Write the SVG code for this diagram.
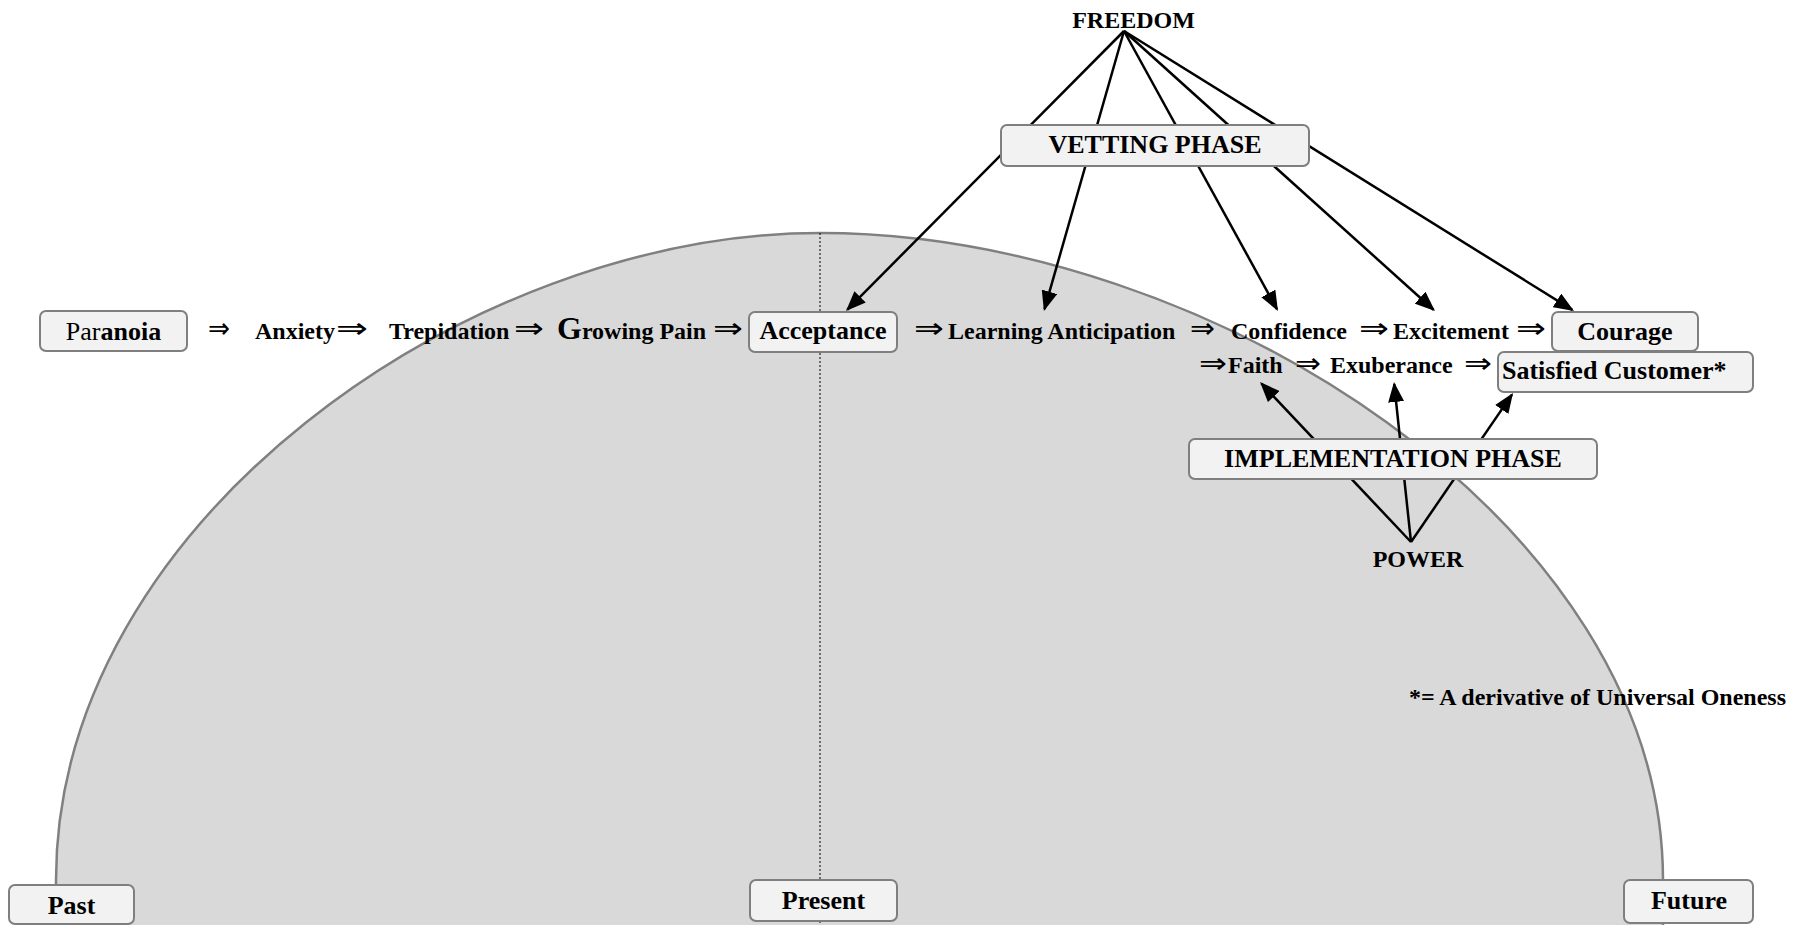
<svg xmlns="http://www.w3.org/2000/svg" width="1811" height="925" viewBox="0 0 1811 925">
<style>
.box{fill:#f2f2f2;stroke:#7f7f7f;stroke-width:2}
.t{font-family:"Liberation Serif","Times New Roman",serif;font-weight:bold;fill:#000}
.w{font-size:24px}
.b{font-size:26px;text-anchor:middle}
.arr{font-family:"DejaVu Sans",sans-serif;font-size:29px;fill:#000}
.ln{stroke:#000;stroke-width:2.5;fill:none;marker-end:url(#ah)}
</style>
<defs>
<marker id="ah" viewBox="0 0 20 16" refX="18" refY="8" markerWidth="20" markerHeight="16" markerUnits="userSpaceOnUse" orient="auto">
<path d="M0,0 L20,8 L0,16 Z" fill="#000"/>
</marker>
</defs>
<g id="timeline-dome">
<path d="M56,940 L56,880 C56,522.7 468,233 820,233 C1208,233 1663,522.7 1663,880 L1663,940 Z" fill="#d9d9d9" stroke="#808080" stroke-width="2.5"/>
<line x1="820" y1="233" x2="820" y2="925" stroke="#000" stroke-width="1" stroke-dasharray="2,2"/>
</g>
<g id="connectors">
<g id="freedom-lines">
<line class="ln" x1="1124" y1="31" x2="847.4" y2="309.6"/>
<line class="ln" x1="1124" y1="31" x2="1044.5" y2="309.1"/>
<line class="ln" x1="1124" y1="31" x2="1277" y2="309.2"/>
<line class="ln" x1="1124" y1="31" x2="1433.5" y2="309.7"/>
<line class="ln" x1="1124" y1="31" x2="1572.3" y2="309.9"/>
</g>
<g id="power-lines">
<line class="ln" x1="1411" y1="542" x2="1261.4" y2="383.5"/>
<line class="ln" x1="1411" y1="542" x2="1394.2" y2="384"/>
<line class="ln" x1="1411" y1="542" x2="1511.9" y2="394.6"/>
</g>
<g id="flow-arrows">
<text class="arr" x="208" y="338" textLength="22" lengthAdjust="spacingAndGlyphs">⇒</text>
<text class="arr" x="336" y="338" textLength="32" lengthAdjust="spacingAndGlyphs">⇒</text>
<text class="arr" x="514" y="338" textLength="30" lengthAdjust="spacingAndGlyphs">⇒</text>
<text class="arr" x="713" y="338" textLength="30" lengthAdjust="spacingAndGlyphs">⇒</text>
<text class="arr" x="914" y="338" textLength="30" lengthAdjust="spacingAndGlyphs">⇒</text>
<text class="arr" x="1190" y="338" textLength="25" lengthAdjust="spacingAndGlyphs">⇒</text>
<text class="arr" x="1359" y="338" textLength="30" lengthAdjust="spacingAndGlyphs">⇒</text>
<text class="arr" x="1516" y="338" textLength="30" lengthAdjust="spacingAndGlyphs">⇒</text>
<text class="arr" x="1199" y="373" textLength="28" lengthAdjust="spacingAndGlyphs">⇒</text>
<text class="arr" x="1295" y="373" textLength="26" lengthAdjust="spacingAndGlyphs">⇒</text>
<text class="arr" x="1464" y="373" textLength="28" lengthAdjust="spacingAndGlyphs">⇒</text>
</g>
</g>
<g id="node-freedom"><text class="t" x="1133.5" y="28" font-size="24" text-anchor="middle">FREEDOM</text></g>
<g id="node-vetting"><rect class="box" x="1001" y="125" width="308" height="41" rx="6"/><text class="t b" x="1155" y="153">VETTING PHASE</text></g>
<g id="node-paranoia"><rect class="box" x="40" y="311" width="147" height="40" rx="6"/><text class="t b" x="113.5" y="340"><tspan font-weight="normal">Par</tspan>anoia</text></g>
<g id="node-anxiety"><text class="t w" x="255" y="339">Anxiety</text></g>
<g id="node-trepidation"><text class="t w" x="389" y="339">Trepidation</text></g>
<g id="node-growing-pain"><text class="t w" x="557" y="339"><tspan font-size="32">G</tspan>rowing Pain</text></g>
<g id="node-acceptance"><rect class="box" x="749" y="312" width="148" height="40" rx="6"/><text class="t b" x="823" y="339">Acceptance</text></g>
<g id="node-learning-anticipation"><text class="t w" x="948" y="339">Learning Anticipation</text></g>
<g id="node-confidence"><text class="t w" x="1231" y="339">Confidence</text></g>
<g id="node-excitement"><text class="t w" x="1393" y="339">Excitement</text></g>
<g id="node-courage"><rect class="box" x="1552" y="312" width="146" height="39" rx="6"/><text class="t b" x="1625" y="340">Courage</text></g>
<g id="node-faith"><text class="t w" x="1228" y="373">Faith</text></g>
<g id="node-exuberance"><text class="t w" x="1330" y="373">Exuberance</text></g>
<g id="node-satisfied-customer"><rect class="box" x="1498" y="352" width="255" height="40" rx="6"/><text class="t" x="1502" y="379" font-size="26">Satisfied Customer*</text></g>
<g id="node-implementation"><rect class="box" x="1189" y="439" width="408" height="40" rx="6"/><text class="t b" x="1393" y="467">IMPLEMENTATION PHASE</text></g>
<g id="node-power"><text class="t" x="1418" y="567" font-size="24" text-anchor="middle">POWER</text></g>
<g id="footnote"><text class="t" x="1409" y="705" font-size="24">*= A derivative of Universal Oneness</text></g>
<g id="node-past"><rect class="box" x="9" y="885" width="125" height="39" rx="6"/><text class="t b" x="71.5" y="914">Past</text></g>
<g id="node-present"><rect class="box" x="750" y="880" width="147" height="41" rx="6"/><text class="t b" x="823.5" y="909">Present</text></g>
<g id="node-future"><rect class="box" x="1624" y="880" width="129" height="43" rx="6"/><text class="t b" x="1689" y="909">Future</text></g>
</svg>
